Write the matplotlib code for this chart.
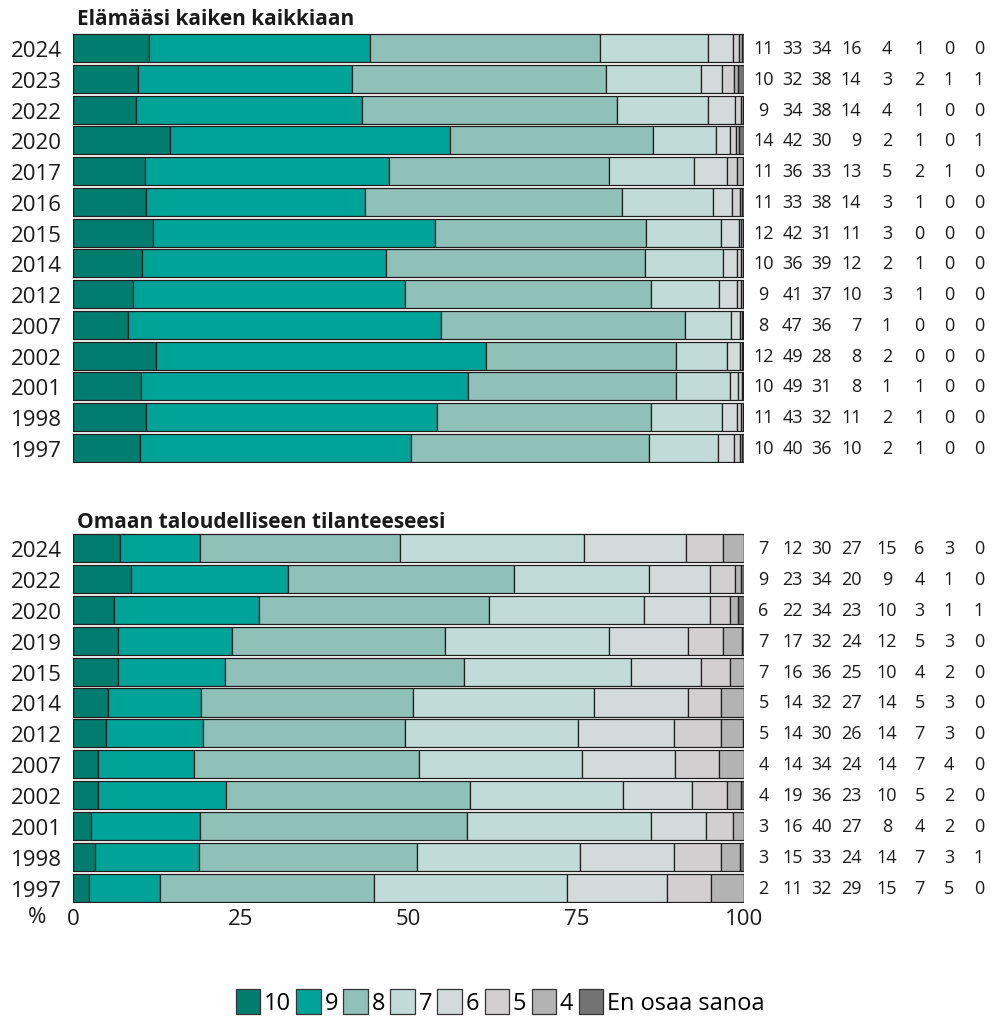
import matplotlib
matplotlib.use('Agg')
import matplotlib.pyplot as plt
from matplotlib.patches import Patch
from matplotlib.transforms import blended_transform_factory
import numpy as np

plt.rcParams['font.family'] = ['Open Sans', 'DejaVu Sans']

# ---------------- data ----------------
categories = ['10', '9', '8', '7', '6', '5', '4', 'En osaa sanoa']
colors = ['#007D6E', '#00A398', '#8FC1B9', '#C1DBD8', '#D2DBDA', '#D2CFD1', '#B3B3B3', '#737373']

title_top = 'Elämääsi kaiken kaikkiaan'
years_top = ['2024', '2023', '2022', '2020', '2017', '2016', '2015', '2014',
             '2012', '2007', '2002', '2001', '1998', '1997']
shares_top = [
    [11.3, 33.0, 34.3, 16.1, 3.6, 1.0, 0.4, 0.3],
    [9.7, 31.8, 37.9, 14.2, 3.1, 1.8, 0.6, 0.9],
    [9.4, 33.7, 37.9, 13.7, 3.9, 0.9, 0.3, 0.2],
    [14.4, 41.8, 30.2, 9.4, 2.1, 0.9, 0.4, 0.8],
    [10.7, 36.4, 32.8, 12.7, 4.8, 1.6, 0.8, 0.2],
    [10.9, 32.6, 38.3, 13.6, 2.8, 1.2, 0.3, 0.3],
    [11.9, 42.1, 31.4, 11.2, 2.7, 0.3, 0.2, 0.2],
    [10.3, 36.3, 38.6, 11.6, 2.1, 0.7, 0.2, 0.2],
    [8.9, 40.6, 36.7, 10.1, 2.6, 0.7, 0.2, 0.2],
    [8.2, 46.6, 36.4, 6.9, 1.3, 0.3, 0.1, 0.2],
    [12.4, 49.1, 28.4, 7.6, 1.9, 0.3, 0.1, 0.2],
    [10.1, 48.8, 31.0, 8.0, 1.2, 0.6, 0.1, 0.2],
    [10.9, 43.3, 31.9, 10.6, 2.2, 0.6, 0.3, 0.2],
    [10.0, 40.3, 35.6, 10.2, 2.4, 0.9, 0.3, 0.3],
]
labels_top = [
    [11, 33, 34, 16, 4, 1, 0, 0],
    [10, 32, 38, 14, 3, 2, 1, 1],
    [9, 34, 38, 14, 4, 1, 0, 0],
    [14, 42, 30, 9, 2, 1, 0, 1],
    [11, 36, 33, 13, 5, 2, 1, 0],
    [11, 33, 38, 14, 3, 1, 0, 0],
    [12, 42, 31, 11, 3, 0, 0, 0],
    [10, 36, 39, 12, 2, 1, 0, 0],
    [9, 41, 37, 10, 3, 1, 0, 0],
    [8, 47, 36, 7, 1, 0, 0, 0],
    [12, 49, 28, 8, 2, 0, 0, 0],
    [10, 49, 31, 8, 1, 1, 0, 0],
    [11, 43, 32, 11, 2, 1, 0, 0],
    [10, 40, 36, 10, 2, 1, 0, 0],
]

title_bottom = 'Omaan taloudelliseen tilanteeseesi'
years_bottom = ['2024', '2022', '2020', '2019', '2015', '2014', '2012', '2007',
                '2002', '2001', '1998', '1997']
shares_bottom = [
    [6.9, 12.0, 29.8, 27.4, 15.2, 5.6, 3.1, 0.0],
    [8.6, 23.4, 33.7, 20.1, 9.2, 3.6, 1.0, 0.4],
    [6.1, 21.6, 34.3, 23.1, 9.8, 3.0, 1.2, 0.9],
    [6.7, 17.0, 31.7, 24.4, 11.9, 5.2, 2.8, 0.3],
    [6.7, 15.9, 35.7, 24.9, 10.4, 4.3, 2.1, 0.0],
    [5.1, 13.9, 31.7, 26.9, 14.0, 5.0, 3.4, 0.0],
    [4.9, 14.4, 30.2, 25.8, 14.2, 7.0, 3.4, 0.1],
    [3.7, 14.3, 33.6, 24.3, 13.8, 6.6, 3.7, 0.0],
    [3.7, 19.0, 36.5, 22.8, 10.3, 5.1, 2.2, 0.4],
    [2.6, 16.3, 39.8, 27.4, 8.2, 4.0, 1.7, 0.0],
    [3.3, 15.4, 32.6, 24.3, 13.9, 7.0, 2.9, 0.6],
    [2.4, 10.6, 31.9, 28.7, 14.9, 6.6, 4.9, 0.0],
]
labels_bottom = [
    [7, 12, 30, 27, 15, 6, 3, 0],
    [9, 23, 34, 20, 9, 4, 1, 0],
    [6, 22, 34, 23, 10, 3, 1, 1],
    [7, 17, 32, 24, 12, 5, 3, 0],
    [7, 16, 36, 25, 10, 4, 2, 0],
    [5, 14, 32, 27, 14, 5, 3, 0],
    [5, 14, 30, 26, 14, 7, 3, 0],
    [4, 14, 34, 24, 14, 7, 4, 0],
    [4, 19, 36, 23, 10, 5, 2, 0],
    [3, 16, 40, 27, 8, 4, 2, 0],
    [3, 15, 33, 24, 14, 7, 3, 1],
    [2, 11, 32, 29, 15, 7, 5, 0],
]

xticks = [0, 25, 50, 75, 100]
xtick_labels = ['0', '25', '50', '75', '100']

# ---------------- layout ----------------
W, H = 993, 1020
fig = plt.figure(figsize=(W / 100, H / 100), dpi=100)


def fx(px):
    return px / W


def fy(py):
    return 1 - py / H


X0, X1 = 73.3, 744.0
ax1 = fig.add_axes([fx(X0), fy(464.4), fx(X1) - fx(X0), fy(33.6) - fy(464.4)])
ax2 = fig.add_axes([fx(X0), fy(904.4), fx(X1) - fx(X0), fy(533.5) - fy(904.4)])

# column positions (pixels) for the numbers on the right
col_x = [763.5, 792.5, 821.5, 861.5, 887.0, 919.5, 949.0, 979.0]
col_ha = ['center', 'center', 'center', 'right', 'center', 'center', 'center', 'center']

TEXT = '#1a1a1a'


def draw(ax, years, shares, labels):
    n = len(years)
    y = np.arange(n)
    data = np.array(shares, dtype=float)
    left = np.zeros(n)
    for j, cat in enumerate(categories):
        ax.barh(y, data[:, j], left=left, height=0.91, color=colors[j],
                edgecolor='#1e1e1e', linewidth=0.9)
        left = left + data[:, j]
    ax.set_xlim(0, 100)
    ax.set_ylim(n - 0.5, -0.5)
    ax.set_yticks(y)
    ax.set_yticklabels(years, fontsize=16, color=TEXT)
    ax.tick_params(axis='y', length=0, pad=8)
    for s in ax.spines.values():
        s.set_visible(False)
    tr = blended_transform_factory(fig.transFigure, ax.transData)
    for i, row in enumerate(labels):
        for j, v in enumerate(row):
            ax.text(fx(col_x[j]), y[i], str(v), transform=tr, ha=col_ha[j],
                    va='center', fontsize=13, color=TEXT)


draw(ax1, years_top, shares_top, labels_top)
draw(ax2, years_bottom, shares_bottom, labels_bottom)

ax1.set_xticks([])
ax2.set_xticks(xticks)
ax2.set_xticklabels(xtick_labels, fontsize=16, color=TEXT)
ax2.tick_params(axis='x', length=0, pad=3)
fig.text(fx(37), fy(918), '%', ha='center', va='center', fontsize=16, color=TEXT)

fig.text(fx(77), fy(25), title_top, ha='left', va='baseline', fontsize=15,
         fontweight='bold', color=TEXT)
fig.text(fx(77), fy(528), title_bottom, ha='left', va='baseline', fontsize=15,
         fontweight='bold', color=TEXT)

handles = [Patch(facecolor=c, edgecolor='#333333', linewidth=0.9) for c in colors]
fig.legend(handles, categories, loc='center', bbox_to_anchor=(fx(500), fy(1003)),
           ncol=8, frameon=False, fontsize=17, handlelength=1.05, handleheight=1.3,
           handletextpad=0.15, columnspacing=0.22, borderaxespad=0)

fig.savefig('out.png', dpi=100)
